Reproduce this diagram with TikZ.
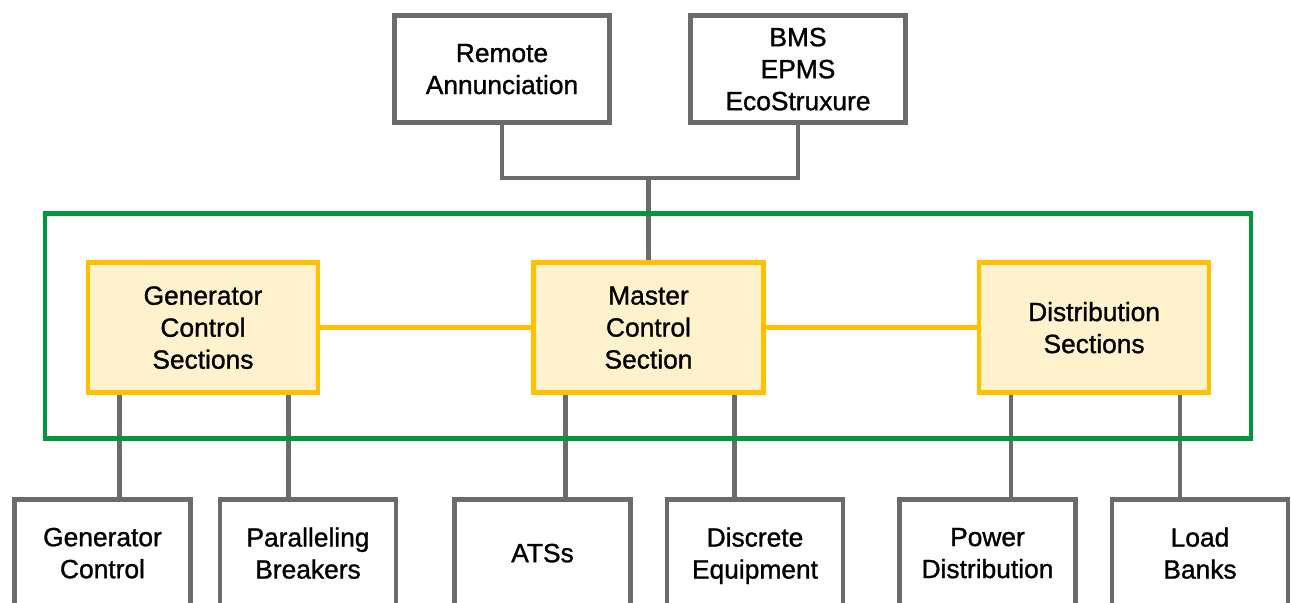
\documentclass[tikz,border=0pt]{standalone}
\usepackage{fontspec}
\setmainfont{Liberation Sans}[FakeBold=1.1]
\usepackage{tikz}
\usetikzlibrary{positioning, calc}

\definecolor{boxgray}{HTML}{6B6B6B}
\definecolor{framegreen}{HTML}{00993A}
\definecolor{secyellow}{HTML}{FFC000}
\definecolor{secfill}{HTML}{FFF2CC}

\begin{document}
\begin{tikzpicture}[
      unit/.style   ={rectangle, draw=boxgray, line width=2.6pt, fill=white, align=center, text depth=0pt,
                      font=\fontsize{15}{18.2}\selectfont, minimum width=4.3cm, minimum height=2.14cm},
      device/.style ={unit, minimum width=3.52cm},
      section/.style={rectangle, draw=secyellow, line width=2.6pt, fill=secfill, align=center, text depth=0pt,
                      font=\fontsize{15}{18.2}\selectfont, minimum width=4.6cm, minimum height=2.6cm},
      wire/.style   ={draw=boxgray, line width=2.6pt},
      link/.style   ={draw=secyellow, line width=2.6pt},
      frame/.style  ={draw=framegreen, line width=2.6pt}
    ]
    \clip (0,0) rectangle (25.82,-12.06);

    % Switchgear sections
    \node[section] (mcs) at (12.97,-6.55) {Master\\Control\\Section};
    \node[section, left=4.22cm of mcs]  (gcs) {Generator\\Control\\Sections};
    \node[section, right=4.22cm of mcs] (dss) {Distribution\\Sections};
    \draw[link] (gcs) -- (mcs);
    \draw[link] (mcs) -- (dss);

    % Monitoring systems on top
    \node[unit] (ra)  at (10.04,-1.38) {Remote\\Annunciation};
    \node[unit] (bms) at (15.96,-1.38) {BMS\\EPMS\\EcoStruxure};
    \coordinate (bus) at (12.97,-3.56);
    \draw[wire] (ra.south) |- (bus) -| (bms.south);
    \draw[wire] (bus) -- (mcs.north);

    % Field equipment below
    \node[device] (gc)  at (2.05,-11.06)  {Generator\\Control};
    \node[device] (pb)  at (6.16,-11.06)  {Paralleling\\Breakers};
    \node[device] (ats) at (10.85,-11.06) {ATSs};
    \node[device] (deq) at (15.10,-11.06) {Discrete\\Equipment};
    \node[device] (pd)  at (19.75,-11.06) {Power\\Distribution};
    \node[device] (lb)  at (24.00,-11.06) {Load\\Banks};

    \foreach \up/\dn/\dx in {gcs/gc/0.68, gcs/pb/4.06, mcs/ats/0.68, mcs/deq/4.06, dss/pd/0.68, dss/lb/4.06} {
      \coordinate (t) at ($(\up.south west)+(\dx,0)$);
      \draw[wire] (t) -- (t |- \dn.north);
    }

    % Switchboard outline
    \draw[frame] (0.90,-4.27) rectangle (25.02,-8.77);

\end{tikzpicture}
\end{document}
